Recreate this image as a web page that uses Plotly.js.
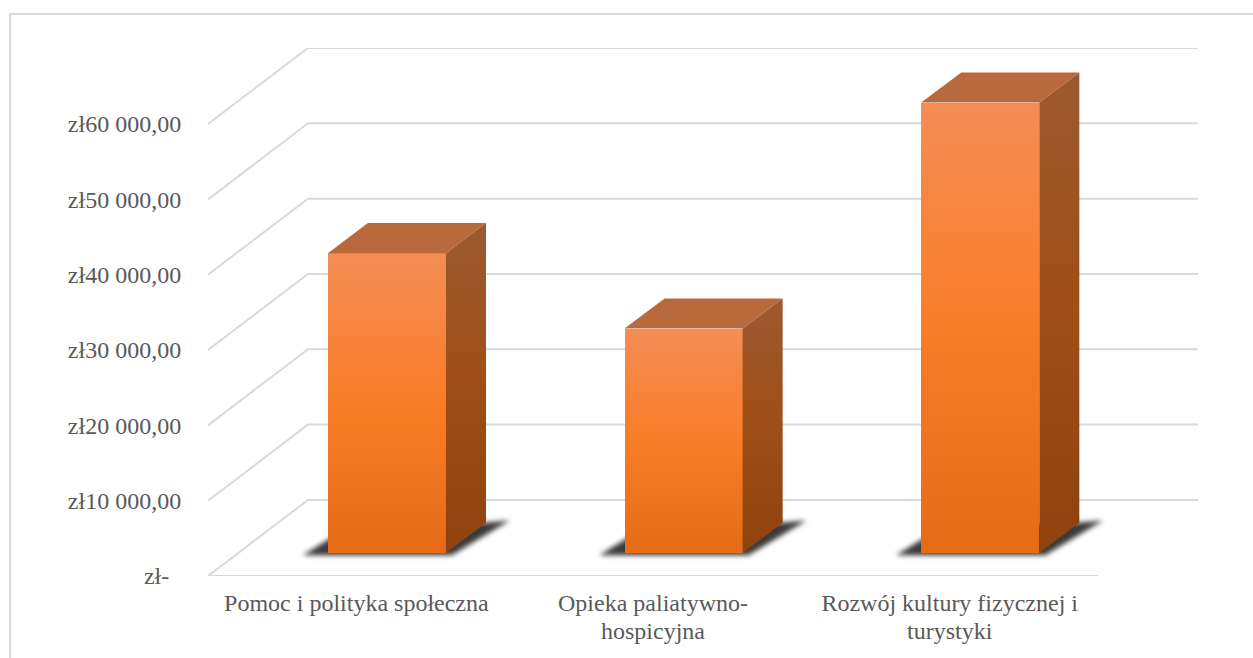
<!DOCTYPE html>
<html>
<head>
<meta charset="utf-8">
<script src="https://cdn.plot.ly/plotly-3.0.1.min.js"></script>
<style>
html,body{margin:0;padding:0;background:#fff;overflow:hidden}
#chart{width:1253px;height:658px;position:absolute;left:0;top:0}
#frame{position:absolute;left:9px;top:13px;right:0;bottom:-10px;border-left:2px solid #d9d9d9;border-top:2px solid #d9d9d9;pointer-events:none}
</style>
</head>
<body>
<div id="chart"></div>
<div id="frame"></div>
<script>
// --- data ---
const categories = ["Pomoc i polityka społeczna", "Opieka paliatywno-<br>hospicyjna", "Rozwój kultury fizycznej i<br>turystyki"];
const values = [39800, 29800, 59800];
const tickValues = [0, 10000, 20000, 30000, 40000, 50000, 60000];
const tickLabels = ["zł-\u00a0\u00a0", "zł10 000,00", "zł20 000,00", "zł30 000,00", "zł40 000,00", "zł50 000,00", "zł60 000,00"];

// --- pseudo 3D projection, in axis units ---
const wallDX = 0.337, wallDY = 10100;     // floor front edge -> back wall
const barDX = 0.135, barDY = 4000;        // depth of a column
const barBase = 3054, barOffset = -0.096, barWidth = 0.398;
const xLeft = -0.5, xRight = 2.5;
const gridColor = "#d9d9d9", textColor = "#595959", serif = "'Liberation Serif','Times New Roman',serif";

const xs = categories.map((_, i) => i);
const shapes = [];
// wall grid: side diagonal + back line for each value
tickValues.forEach(v => {
  shapes.push({type:"path", layer:"below", xref:"x", yref:"y",
    path:`M${xLeft},${v} L${xLeft+wallDX},${v+wallDY} L${xRight+wallDX},${v+wallDY}`,
    line:{color:gridColor,width:2}});
});
// front floor edge
shapes.push({type:"path", layer:"below", xref:"x", yref:"y",
  path:`M${xLeft},0 L${xRight},0`, line:{color:gridColor,width:2}});
// cast shadows
xs.forEach(i => {
  const l = i + barOffset, r = l + barWidth;
  shapes.push({type:"path", layer:"below", xref:"x", yref:"y", fillcolor:"#3a3a3a",
    line:{width:0},
    path:`M${l-0.085},${barBase-300} L${l+0.03},${barBase+2500} L${r+barDX+0.08},${barBase+barDY+300} L${r+0.02},${barBase-300} Z`});
});

const traces = [{
  type:"bar", x:xs, y:values, base:xs.map(() => barBase), offset:barOffset, width:barWidth,
  marker:{color:"#f97d27", line:{width:0}}, hoverinfo:"skip"
}];
// column top + side faces
xs.forEach(i => {
  const l = i + barOffset, r = l + barWidth, top = barBase + values[i];
  traces.push({type:"scatter", mode:"lines", hoverinfo:"skip", line:{width:0},
    x:[l, l+barDX, r+barDX, r, l], y:[top, top+barDY, top+barDY, top, top],
    fill:"toself", fillcolor:"#b96a3d"});
  traces.push({type:"scatter", mode:"lines", hoverinfo:"skip", line:{width:0},
    x:[r, r+barDX, r+barDX, r, r], y:[top, top+barDY, barBase+barDY, barBase, top],
    fill:"toself", fillgradient:{type:"vertical",
      colorscale:[[0,"#8f420e"],[0.55,"#a04f18"],[1,"#9c5a31"]]}});
});

const layout = {
  width:1253, height:658, showlegend:false,
  margin:{l:208, r:55, t:48, b:82, pad:0},
  paper_bgcolor:"#fff", plot_bgcolor:"rgba(0,0,0,0)",
  font:{family:serif, size:24, color:textColor},
  bargap:0,
  shapes:shapes,
  xaxis:{type:"linear", range:[xLeft, xRight+wallDX], tickmode:"array", tickvals:xs, ticktext:categories,
    showgrid:false, zeroline:false, showline:false, ticks:"outside", ticklen:5, tickcolor:"rgba(0,0,0,0)", tickangle:0,
    tickfont:{family:serif,size:24,color:textColor}, automargin:false},
  yaxis:{type:"linear", range:[0, 70100], tickmode:"array", tickvals:tickValues, ticktext:tickLabels,
    showgrid:false, zeroline:false, showline:false, ticks:"outside", ticklen:21, tickcolor:"rgba(0,0,0,0)",
    tickfont:{family:serif,size:24,color:textColor}, automargin:false}
};

const gd = document.getElementById("chart");
Plotly.newPlot(gd, traces, layout, {displayModeBar:false, staticPlot:true}).then(() => {
  const svg = gd.querySelector("svg.main-svg");
  const NS = "http://www.w3.org/2000/svg";
  const defs = svg.querySelector("defs");
  const g = document.createElementNS(NS, "linearGradient");
  g.setAttribute("id", "barFront");
  g.setAttribute("x1","0"); g.setAttribute("y1","0"); g.setAttribute("x2","0"); g.setAttribute("y2","1");
  [["0","#f48d55"],["0.5","#f97d27"],["1","#e66b17"]].forEach(([o,c]) => {
    const s = document.createElementNS(NS, "stop");
    s.setAttribute("offset", o); s.setAttribute("stop-color", c); g.appendChild(s);
  });
  defs.appendChild(g);
  gd.querySelectorAll(".barlayer .point path").forEach(p => { p.style.fill = "url(#barFront)"; });
  // soften the cast shadows
  gd.querySelectorAll(".shapelayer path").forEach(p => {
    if ((p.style.fill || "").indexOf("58, 58, 58") >= 0) p.style.filter = "blur(2.5px)";
  });
  // tighter line spacing in two-line category labels
  gd.querySelectorAll(".xtick text tspan.line").forEach(t => {
    const dy = parseFloat(t.getAttribute("dy"));
    if (dy > 0) t.setAttribute("dy", "1.17em");
  });
});
</script>
</body>
</html>
